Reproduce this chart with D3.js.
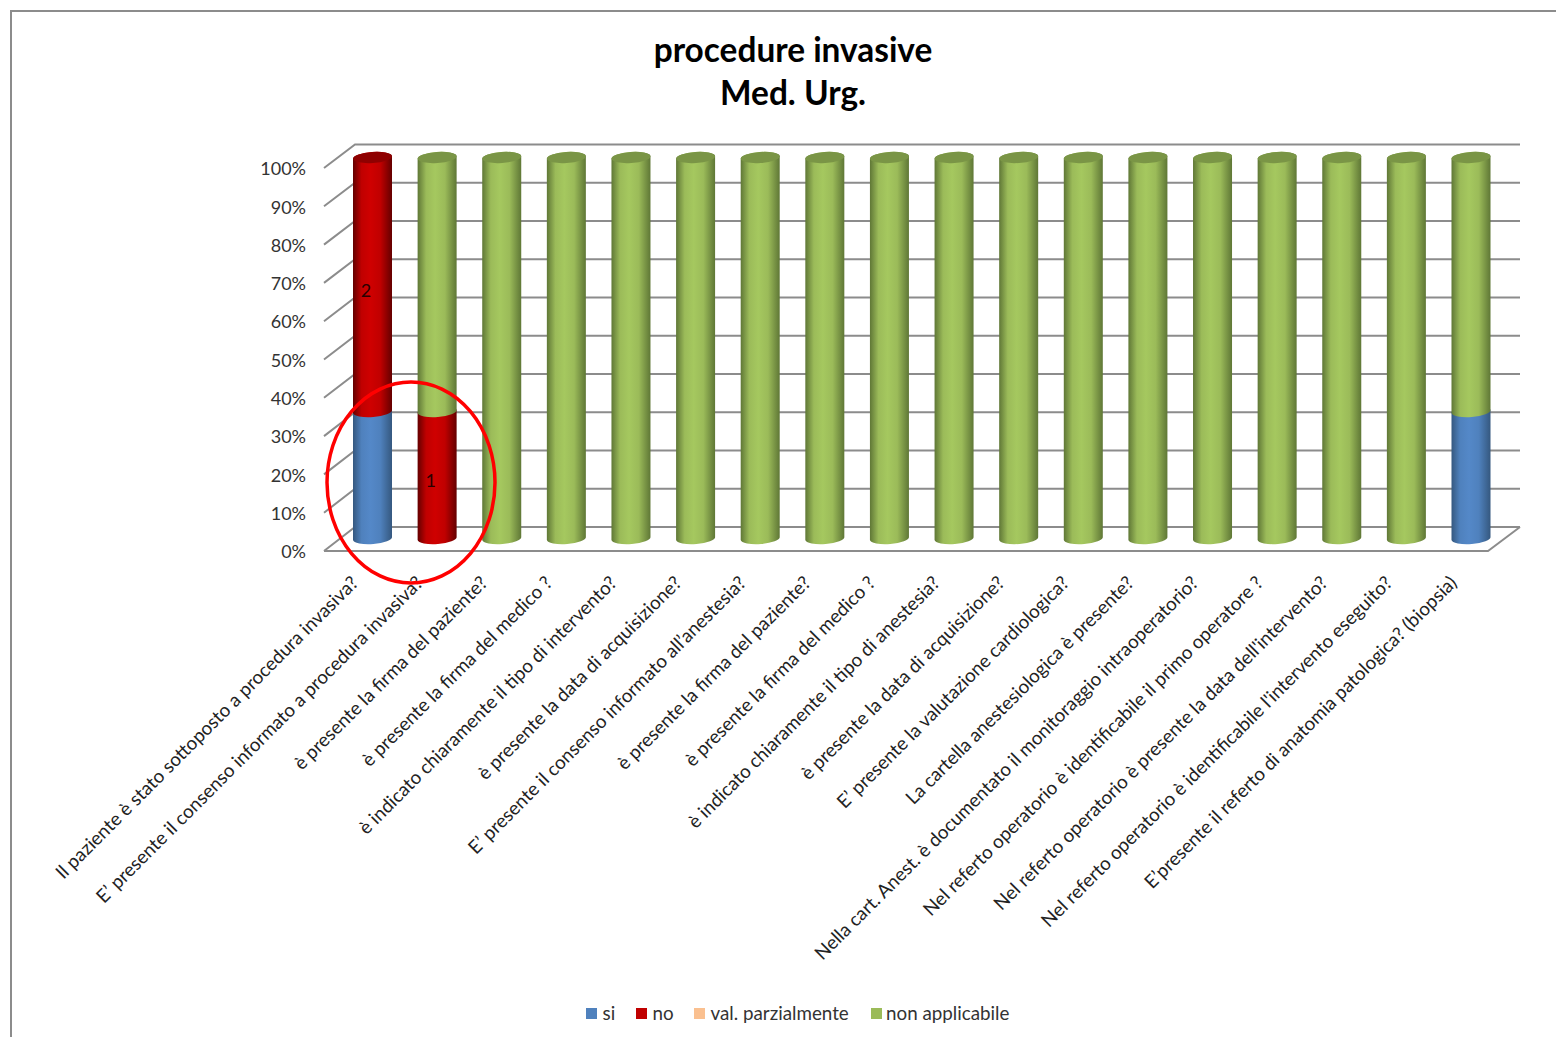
<!DOCTYPE html>
<html><head><meta charset="utf-8">
<script src="https://cdn.jsdelivr.net/npm/d3@7"></script>
<style>html,body{margin:0;padding:0;background:#fff}svg{display:block}text{font-family:Lato,"Open Sans",sans-serif}</style>
</head><body><svg id="c" width="1556" height="1037"></svg>
<script>
const titleLines=["procedure invasive","Med. Urg."];
const categories=["Il paziente è stato sottoposto a procedura invasiva?","E’ presente il consenso informato a procedura invasiva?","è presente la firma del paziente?","è presente la firma del medico ?","è indicato chiaramente il tipo di intervento?","è presente la data di acquisizione?","E’ presente il consenso informato all’anestesia?","è presente la firma del paziente?","è presente la firma del medico ?","è indicato chiaramente il tipo di anestesia?","è presente la data di acquisizione?","E’ presente la valutazione cardiologica?","La cartella anestesiologica è presente?","Nella cart. Anest. è documentato il monitoraggio intraoperatorio?","Nel referto operatorio è identificabile il primo operatore ?","Nel referto operatorio è presente la data dell'intervento?","Nel referto operatorio è identificabile l'intervento eseguito?","E’presente il referto di anatomia patologica? (biopsia)"];
const seriesNames=["si","no","val. parzialmente","non applicabile"];
const si =[1,0,0,0,0,0,0,0,0,0,0,0,0,0,0,0,0,1];
const no =[2,1,0,0,0,0,0,0,0,0,0,0,0,0,0,0,0,0];
const val=[0,0,0,0,0,0,0,0,0,0,0,0,0,0,0,0,0,0];
const non=[0,2,3,3,3,3,3,3,3,3,3,3,3,3,3,3,3,2];
const labelledSeries=[1,1]; // series whose count is printed, for the first two columns
const ticks=[0,.1,.2,.3,.4,.5,.6,.7,.8,.9,1];

const colors=["#4f81bd","#c00000","#fac090","#9bbb59"];
const edgeColors=["#35587f","#640000","#b08050","#5f7736"];
const midColors=["#5488c8","#cf0000","#fac090","#a5c85f"];
const capColors=["#3f6897","#8f0000","#c89870","#7a9546"];
const svg=d3.select("#c");
const all=[si,no,val,non];
const stack=categories.map((_,i)=>{let acc=0;const t=d3.sum(all,s=>s[i]);
  return all.map((s,k)=>{const a=acc/t;acc+=s[i];return {k,i,v:s[i],a,b:acc/t};}).filter(d=>d.v>0);});

// frame
svg.append("path").attr("d",d3.line()([[11,1037],[11,11],[1556,11]])).attr("fill","none").attr("stroke","#8c8c8c").attr("stroke-width",2);

// gradients
const defs=svg.append("defs");
colors.forEach((c,k)=>{const g=defs.append("linearGradient").attr("id","g"+k);
  [[0,edgeColors[k]],[.22,colors[k]],[.45,midColors[k]],[.7,colors[k]],[1,edgeColors[k]]].forEach(([o,col])=>g.append("stop").attr("offset",o).attr("stop-color",col));});

const yFront=d3.scaleLinear().domain([0,1]).range([551,168]);
const yWall=d3.scaleLinear().domain([0,1]).range([527,144.5]);
const yBar=d3.scaleLinear().domain([0,1]).range([538.5,157.5]);
const x=d3.scalePoint().domain(d3.range(categories.length)).range([372.5,1471]);
const xFrontL=324,xWallL=355,xFrontR=1488,xWallR=1520;
const grid="#8c8c8c";

// walls and floor
const gridG=svg.append("g").attr("fill","none").attr("stroke",grid).attr("stroke-width",2);
gridG.selectAll("path.w").data(ticks).join("path").attr("class","w")
  .attr("d",t=>d3.line()([[xFrontL,yFront(t)],[xWallL,yWall(t)],[xWallR,yWall(t)]]));
gridG.append("path").attr("d",d3.line()([[xFrontL,yFront(0)],[xFrontR,yFront(0)],[xWallR,yWall(0)]]));

// y axis
const axis=d3.axisLeft(yFront).tickValues(ticks).tickFormat(d3.format(".0%")).tickSize(0).tickPadding(0);
const ag=svg.append("g").attr("transform","translate(306,1)").call(axis);
ag.select(".domain").remove();
ag.selectAll("text").style("font-family","Lato").attr("font-size",18).attr("fill","#333");

// cylinders
const rx=19.5,ry=5.5,tilt=1.5;
const segPath=d=>{const cx=x(d.i),l=cx-rx,r=cx+rx,yb=yBar(d.a),yt=yBar(d.b);
  return `M${l},${yb+tilt}A${rx},${ry},-4,0,0,${r},${yb-tilt}L${r},${yt-tilt}A${rx},${ry},-4,0,0,${l},${yt+tilt}Z`;};
const bars=svg.append("g").selectAll("g").data(stack).join("g");
bars.selectAll("path").data(d=>d).join("path").attr("d",segPath).attr("fill",d=>`url(#g${d.k})`);
bars.append("ellipse").attr("cx",(d,i)=>x(i)).attr("cy",yBar(1)).attr("rx",rx).attr("ry",ry)
  .attr("transform",(d,i)=>`rotate(-4,${x(i)},${yBar(1)})`)
  .attr("fill",d=>capColors[d[d.length-1].k]);

// data labels
svg.append("g").selectAll("text").data(labelledSeries.map((k,i)=>stack[i].find(d=>d.k===k))).join("text")
  .attr("x",d=>x(d.i)-6.5).attr("y",d=>yBar((d.a+d.b)/2)+12)
  .attr("text-anchor","middle").attr("font-size",18).attr("fill","#2a0000").text(d=>d.v);

// category labels
svg.append("g").selectAll("text").data(categories).join("text")
  .attr("transform",(d,i)=>`translate(${x(i)-13},${584}) rotate(-45)`)
  .attr("text-anchor","end").attr("font-size",18.8).attr("fill","#222").text(d=>d);

// annotation ellipse
svg.append("ellipse").attr("cx",411).attr("cy",482.5).attr("rx",84).attr("ry",100.5).attr("fill","none").attr("stroke","#ff0000").attr("stroke-width",3.5);

// title
svg.append("g").selectAll("text").data(titleLines).join("text")
  .attr("x",793).attr("y",(d,i)=>62+i*43).attr("text-anchor","middle").attr("font-size",33.4).attr("font-weight",700).attr("fill","#000").text(d=>d);

// legend
const legendX=d3.scaleOrdinal().domain(seriesNames).range([586,636,694,871]);
const lg=svg.append("g").selectAll("g").data(seriesNames).join("g").attr("transform",d=>`translate(${legendX(d)},1008)`);
lg.append("rect").attr("width",11).attr("height",11).attr("fill",(d,i)=>colors[i]);
lg.append("text").attr("x",(d,i)=>i==3?15:16.5).attr("y",11.5).attr("font-size",18.8).attr("fill","#333").text(d=>d);
</script></body></html>
